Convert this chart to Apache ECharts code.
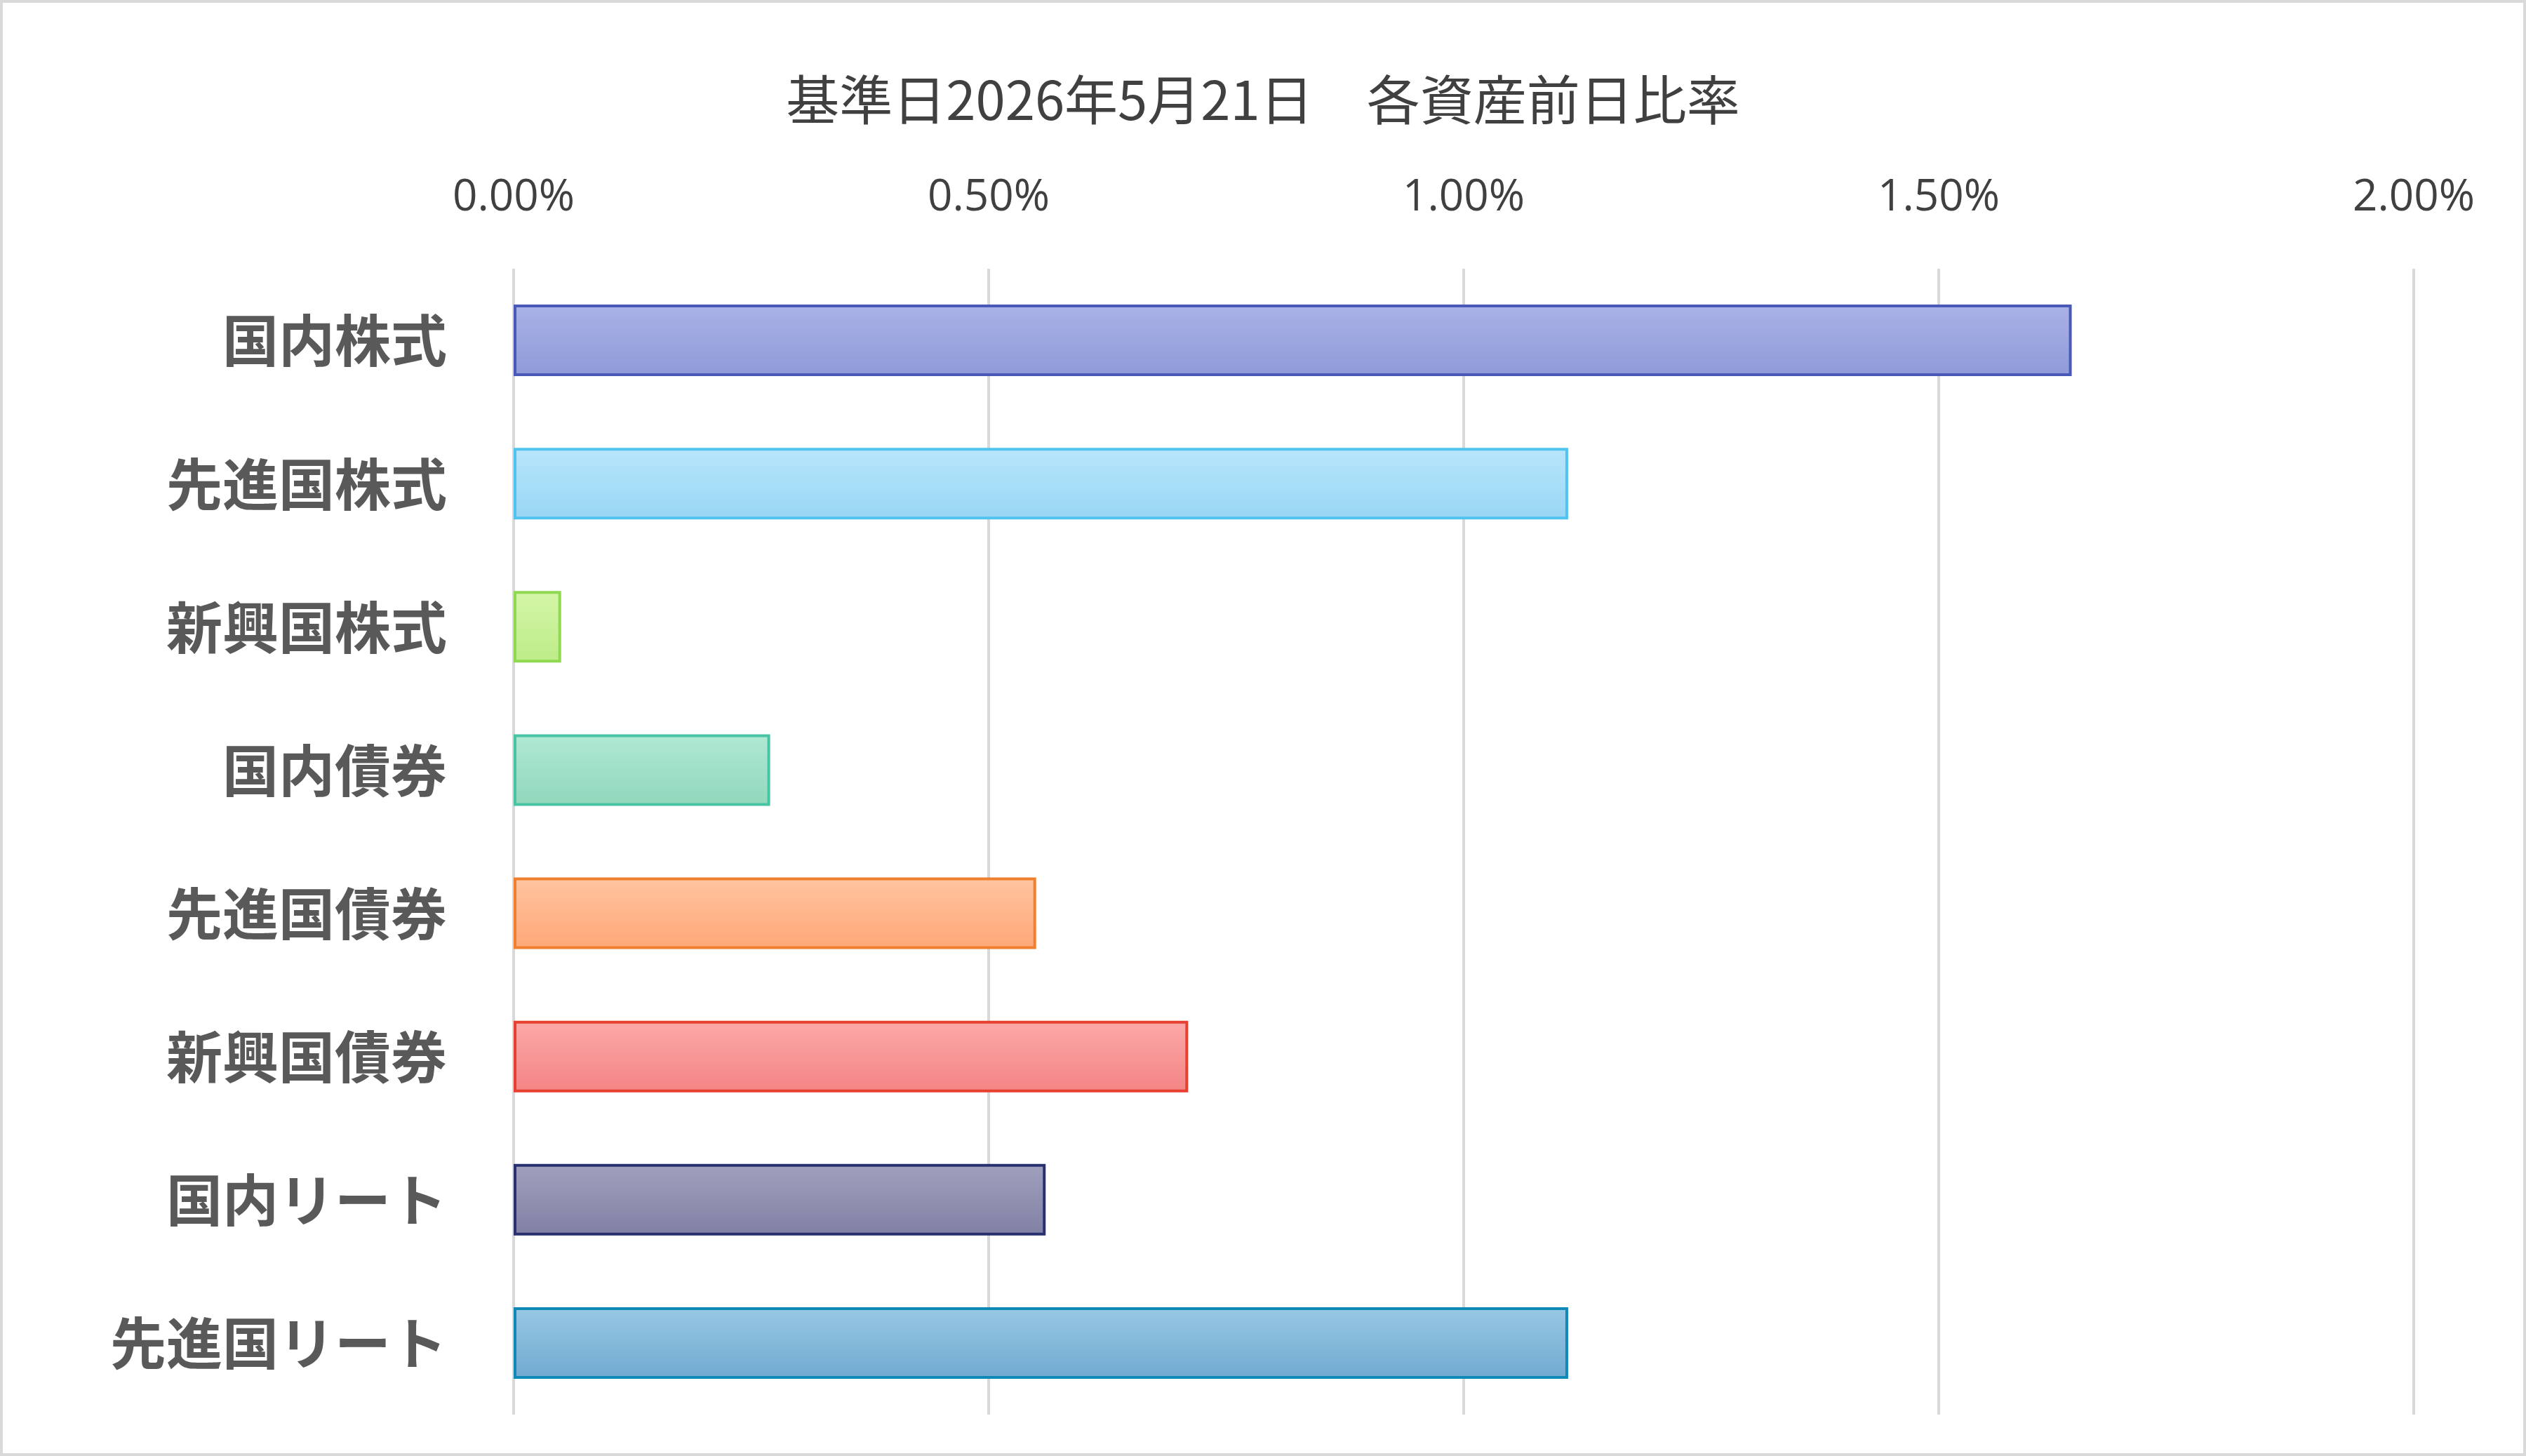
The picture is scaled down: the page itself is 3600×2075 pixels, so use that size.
<!DOCTYPE html>
<html><head><meta charset="utf-8">
<script src="https://cdn.jsdelivr.net/npm/echarts@6/dist/echarts.min.js"></script>
<style>html,body{margin:0;padding:0;background:#fff}#c{width:3600px;height:2075px;box-sizing:border-box;border:4px solid #d9d9d9}</style>
</head><body><div id="c"></div>
<script>
const categories=['国内株式','先進国株式','新興国株式','国内債券','先進国債券','新興国債券','国内リート','先進国リート'];
const values=[1.64,1.11,0.05,0.27,0.55,0.71,0.56,1.11];
const fills=[['#aab2e6','#8f9ad8'],['#b8e6fc','#98d6f4'],['#d4f6a8','#bdec88'],['#b0e8d4','#90d8bc'],['#ffc4a0','#ffa878'],['#fca8a8','#f48484'],['#a0a0be','#8080a4'],['#98c8e4','#70aad0']];
const borders=['#4a58b8','#50c4ee','#90d850','#48c4a4','#f08030','#e84030','#283070','#1088b8'];
const chart=echarts.init(document.getElementById('c'));
chart.setOption({
 title:{text:'基準日2026年5月21日　各資産前日比率',left:'center',top:95,textStyle:{fontSize:76,fontWeight:'normal',color:'#404040',fontFamily:'Noto Sans CJK JP'}},
 grid:{left:728,right:156,top:379,bottom:55,containLabel:false},
 xAxis:{type:'value',position:'top',min:0,max:2,interval:0.5,
  axisLabel:{formatter:v=>v.toFixed(2)+'%',fontSize:62,color:'#404040',margin:70,fontFamily:'Open Sans'},
  splitLine:{lineStyle:{color:'#d9d9d9',width:4}},axisLine:{show:false},axisTick:{show:false}},
 yAxis:{type:'category',inverse:true,data:categories,
  axisLabel:{fontSize:80,fontWeight:'bold',color:'#595959',margin:95,fontFamily:'Noto Sans CJK JP'},
  axisLine:{show:false},axisTick:{show:false}},
 series:[{type:'bar',barWidth:'50%',
  data:values.map((v,i)=>({value:v,itemStyle:{color:new echarts.graphic.LinearGradient(0,0,0,1,[{offset:0,color:fills[i][0]},{offset:1,color:fills[i][1]}]),borderColor:borders[i],borderWidth:4}}))}]
});
</script></body></html>
